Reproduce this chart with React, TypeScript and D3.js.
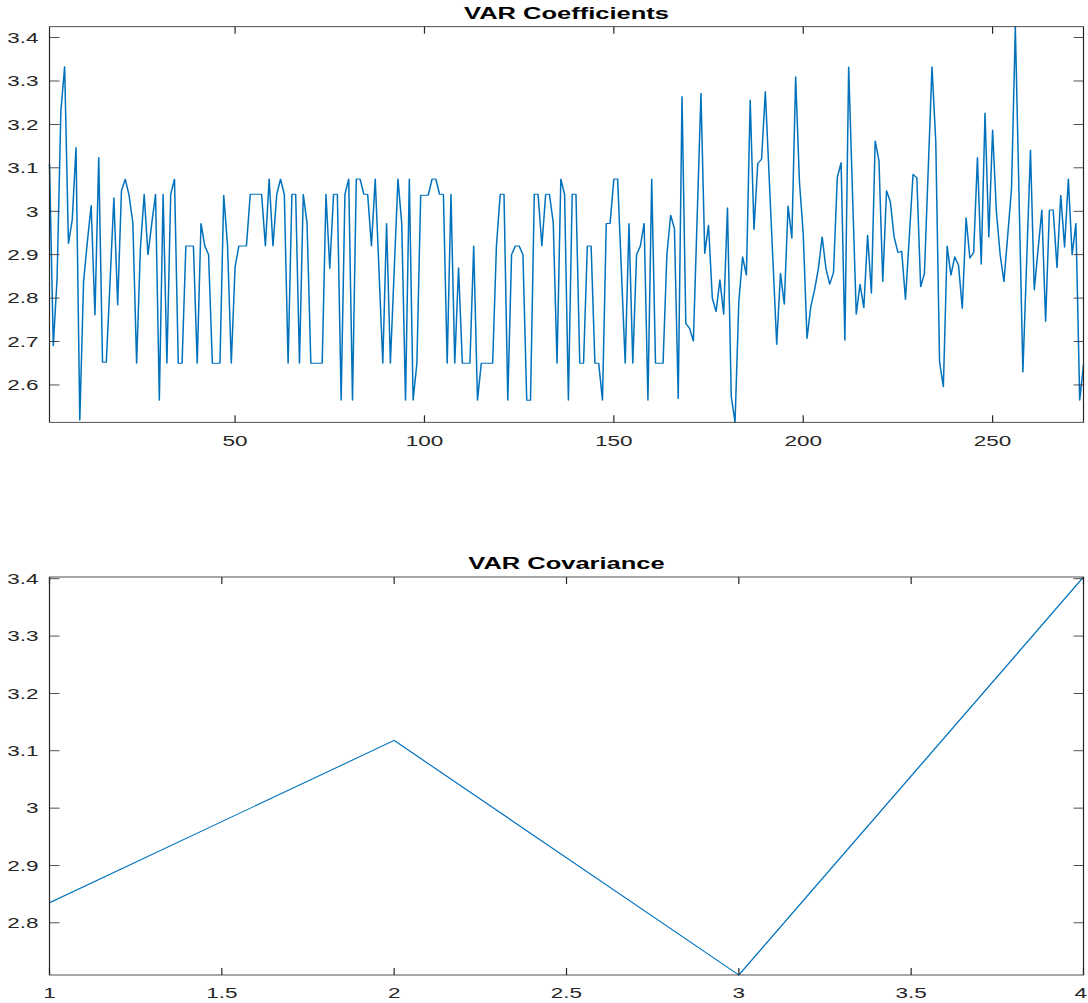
import React from "react";
import * as d3 from "d3";

const coefValues: number[] = [
  3.11, 2.69, 2.845, 3.23, 3.333, 2.926, 2.98, 3.147, 2.519, 2.838,
  2.93, 3.013, 2.761, 3.124, 2.652, 2.652, 2.84, 3.031, 2.784, 3.047,
  3.074, 3.037, 2.974, 2.65, 2.915, 3.039, 2.9, 2.972, 3.039, 2.565,
  3.039, 2.65, 3.039, 3.074, 2.65, 2.65, 2.92, 2.92, 2.92, 2.65,
  2.972, 2.92, 2.9, 2.65, 2.65, 2.65, 3.037, 2.922, 2.65, 2.872,
  2.92, 2.92, 2.92, 3.039, 3.039, 3.039, 3.039, 2.92, 3.074, 2.92,
  3.039, 3.074, 3.039, 2.65, 3.039, 3.039, 2.65, 3.039, 2.972, 2.65,
  2.65, 2.65, 2.65, 3.039, 2.868, 3.039, 3.039, 2.565, 3.039, 3.074,
  2.565, 3.074, 3.074, 3.039, 3.039, 2.92, 3.074, 2.862, 2.65, 2.972,
  2.65, 2.862, 3.074, 2.972, 2.565, 3.074, 2.565, 2.65, 3.037, 3.037,
  3.037, 3.074, 3.074, 3.039, 3.039, 2.65, 3.039, 2.65, 2.87, 2.65,
  2.65, 2.65, 2.92, 2.565, 2.65, 2.65, 2.65, 2.65, 2.92, 3.039,
  3.039, 2.565, 2.9, 2.92, 2.92, 2.9, 2.565, 2.565, 3.039, 3.039,
  2.92, 3.039, 3.039, 2.974, 2.65, 3.074, 3.039, 2.565, 3.039, 3.039,
  2.65, 2.65, 2.92, 2.92, 2.65, 2.65, 2.565, 2.972, 2.972, 3.074,
  3.074, 2.862, 2.65, 2.972, 2.65, 2.9, 2.92, 2.972, 2.565, 3.074,
  2.65, 2.65, 2.65, 2.9, 2.991, 2.96, 2.569, 3.264, 2.742, 2.73,
  2.701, 2.987, 3.272, 2.903, 2.968, 2.8, 2.769, 2.842, 2.763, 3.008,
  2.573, 2.514, 2.792, 2.895, 2.853, 3.256, 2.958, 3.11, 3.12, 3.276,
  3.08, 2.887, 2.693, 2.857, 2.786, 3.012, 2.938, 3.31, 3.068, 2.949,
  2.707, 2.78, 2.819, 2.868, 2.941, 2.868, 2.832, 2.859, 3.078, 3.112,
  2.703, 3.332, 3.045, 2.763, 2.832, 2.778, 2.945, 2.811, 3.162, 3.116,
  2.838, 3.047, 3.022, 2.941, 2.905, 2.908, 2.797, 2.94, 3.085, 3.077,
  2.826, 2.857, 3.095, 3.333, 3.16, 2.653, 2.596, 2.92, 2.853, 2.895,
  2.876, 2.776, 2.985, 2.892, 2.905, 3.124, 2.878, 3.226, 2.941, 3.187,
  2.999, 2.9, 2.838, 2.945, 3.053, 3.425, 3.028, 2.63, 2.886, 3.141,
  2.819, 2.911, 3.003, 2.746, 3.003, 3.003, 2.87, 3.037, 2.917, 3.074,
  2.9, 2.972, 2.565, 2.646,
];
const coefIndex: number[] = coefValues.map((_, i) => i + 1);
const coefXTicks = [50, 100, 150, 200, 250];
const coefYTicks = [2.6, 2.7, 2.8, 2.9, 3.0, 3.1, 3.2, 3.3, 3.4];

const covIndex = [1, 2, 3, 4];
const covValues = [2.835, 3.118, 2.709, 3.403];
const covXTicks = [1, 1.5, 2, 2.5, 3, 3.5, 4];
const covYTicks = [2.8, 2.9, 3.0, 3.1, 3.2, 3.3, 3.4];

const W = 1088;
const H = 1003;
const SX = 1.5; // horizontal stretch of the reference rendering
const FONT = "'Liberation Sans', Arial, Helvetica, sans-serif";
const AXIS = "#262626";
const LINE = "#0072BD";

const fmt = (d: number) => String(+d.toFixed(2));

type PanelProps = {
  title: string;
  xs: number[];
  ys: number[];
  xTicks: number[];
  yTicks: number[];
  xDomain: [number, number];
  yDomain: [number, number];
  top: number;
  bottom: number;
};

const LEFT = 49.5;
const RIGHT = 1083.5;

function Panel({ title, xs, ys, xTicks, yTicks, xDomain, yDomain, top, bottom }: PanelProps) {
  const x = d3.scaleLinear().domain(xDomain).range([LEFT / SX, RIGHT / SX]);
  const y = d3.scaleLinear().domain(yDomain).range([bottom, top]);
  const line = d3
    .line<number>()
    .x((_, i) => x(xs[i]))
    .y((d) => y(d));
  const xl = LEFT / SX;
  const xr = RIGHT / SX;
  const ytl = 10 / SX;
  const xtl = 7;
  const maxX = (W - 1) / SX;
  return (
    <g>
      <path d={line(ys) || ""} fill="none" stroke={LINE} strokeWidth={1} strokeLinejoin="round" />
      <rect x={xl} y={top} width={xr - xl} height={bottom - top} fill="none" stroke={AXIS} strokeWidth={0.8} />
      {yTicks.map((t) => (
        <g key={"y" + t}>
          <line x1={xl} x2={xl + ytl} y1={y(t)} y2={y(t)} stroke={AXIS} strokeWidth={0.8} />
          <line x1={xr} x2={xr - ytl} y1={y(t)} y2={y(t)} stroke={AXIS} strokeWidth={0.8} />
          <text x={xl - 11 / SX} y={y(t) + 5.3} textAnchor="end" fontSize={15} fill={AXIS} fontFamily={FONT}>
            {fmt(t)}
          </text>
        </g>
      ))}
      {xTicks.map((t) => {
        const label = fmt(t);
        const halfW = label.length * 4.2;
        const cx = Math.min(x(t), maxX - halfW);
        return (
          <g key={"x" + t}>
            <line x1={x(t)} x2={x(t)} y1={bottom} y2={bottom - xtl} stroke={AXIS} strokeWidth={0.8} />
            <line x1={x(t)} x2={x(t)} y1={top} y2={top + xtl} stroke={AXIS} strokeWidth={0.8} />
            <text x={cx} y={bottom + 23.5} textAnchor="middle" fontSize={15} fill={AXIS} fontFamily={FONT}>
              {label}
            </text>
          </g>
        );
      })}
      <text
        x={(xl + xr) / 2}
        y={top - 8}
        textAnchor="middle"
        fontSize={17}
        fontWeight="bold"
        fill="#000"
        fontFamily={FONT}
      >
        {title}
      </text>
    </g>
  );
}

export default function App() {
  const coefExt = d3.extent(coefValues) as [number, number];
  const covExt = d3.extent(covValues) as [number, number];
  return (
    <svg
      width={W}
      height={H}
      viewBox={`0 0 ${W} ${H}`}
      style={{ position: "absolute", left: 0, top: 0, background: "#fff" }}
    >
      <rect x={0} y={0} width={W} height={H} fill="#fff" />
      <g transform={`scale(${SX},1)`}>
        <Panel
          title="VAR Coefficients"
          xs={coefIndex}
          ys={coefValues}
          xTicks={coefXTicks}
          yTicks={coefYTicks}
          xDomain={[1, coefIndex.length]}
          yDomain={coefExt}
          top={26.7}
          bottom={422.3}
        />
        <Panel
          title="VAR Covariance"
          xs={covIndex}
          ys={covValues}
          xTicks={covXTicks}
          yTicks={covYTicks}
          xDomain={[1, 4]}
          yDomain={covExt}
          top={577}
          bottom={975}
        />
      </g>
    </svg>
  );
}
